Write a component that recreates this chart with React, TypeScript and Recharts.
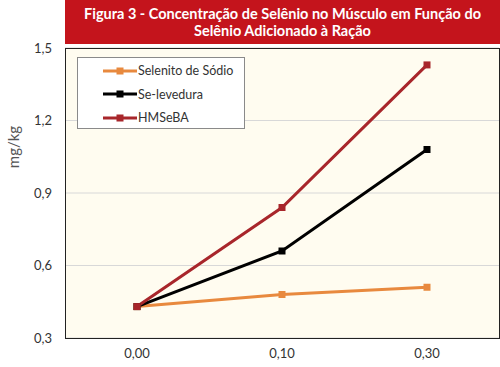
import React from 'react';
import { LineChart, Line, XAxis, YAxis, CartesianGrid, Legend } from 'recharts';

const categories = ['0,00', '0,10', '0,30'];
const selenitoValues = [0.43, 0.48, 0.51];
const leveduraValues = [0.43, 0.66, 1.08];
const hmsebaValues = [0.43, 0.84, 1.43];
const yTicks = [0.3, 0.6, 0.9, 1.2, 1.5];
const titleLines = ['Figura 3 - Concentração de Selênio no Músculo em Função do', 'Selênio Adicionado à Ração'];

const seriesDefs = [
  { key: 'selenito', name: 'Selenito de Sódio', color: '#E8893E' },
  { key: 'levedura', name: 'Se-levedura', color: '#000000' },
  { key: 'hmseba', name: 'HMSeBA', color: '#A8262B' },
];

const data = categories.map((c, i) => ({
  cat: c,
  selenito: selenitoValues[i],
  levedura: leveduraValues[i],
  hmseba: hmsebaValues[i],
}));

const FONT = 'Lato, "Open Sans", sans-serif';

const squareDot = (color: string) => (props: any) => {
  const { cx, cy, index } = props;
  if (cx == null || cy == null) return <g key={index} />;
  return <rect key={index} x={cx - 3.5} y={cy - 3.5} width={7} height={7} fill={color} />;
};

const LegendContent = () => (
  <div style={{ background: '#fff', border: '1px solid #8a8a8a', width: 168, height: 72, boxSizing: 'border-box', paddingTop: 1, fontFamily: FONT }}>
    {seriesDefs.map((s) => (
      <div key={s.key} style={{ display: 'flex', alignItems: 'center', height: 23.5 }}>
        <svg width={34} height={10} style={{ marginLeft: 25 }}>
          <line x1={0} y1={5} x2={34} y2={5} stroke={s.color} strokeWidth={3} />
          <rect x={13.5} y={1.5} width={7} height={7} fill={s.color} />
        </svg>
        <span style={{ fontSize: 12.5, color: '#333', marginLeft: 1 }}>{s.name}</span>
      </div>
    ))}
  </div>
);

export default function App() {
  return (
    <div style={{ position: 'absolute', left: 0, top: 0, width: 500, height: 367, background: '#fff' }}>
      <div style={{ position: 'absolute', left: 65, top: 0, width: 435, height: 44, background: '#C4141C', color: '#fff', fontFamily: FONT, fontWeight: 700, fontSize: 14.5, textAlign: 'center', lineHeight: '17px', paddingTop: 5, boxSizing: 'border-box' }}>
        <div>{titleLines[0]}</div>
        <div>{titleLines[1]}</div>
      </div>
      <LineChart width={500} height={367} data={data} margin={{ top: 48, right: 1, left: 0, bottom: 0 }} style={{ position: 'absolute', left: 0, top: 0 }}>
        <CartesianGrid vertical={false} stroke="#D8D8D8" fill="#FFFCF0" />
        <XAxis dataKey="cat" height={29} padding={{ left: 72, right: 72 }} tickLine={false} axisLine={false} tickSize={0} tickMargin={11} tick={{ fill: '#333', fontSize: 13, fontFamily: FONT }} />
        <YAxis
          domain={[0.3, 1.5]}
          ticks={yTicks}
          width={65}
          tickLine={false}
          axisLine={false}
          tickSize={0}
          tickMargin={13}
          tickFormatter={(v: number) => v.toFixed(1).replace('.', ',')}
          tick={{ fill: '#333', fontSize: 13, fontFamily: FONT }}
          label={{
            content: () => (
              <text x={19} y={147} transform="rotate(-90 19 147)" textAnchor="middle" fontSize={15} fill="#555" fontFamily={FONT}>mg/kg</text>
            ),
          }}
        />
        <Legend layout="vertical" align="center" verticalAlign="middle" content={<LegendContent />} wrapperStyle={{ position: 'absolute', left: 77, top: 57, width: 168, height: 72 }} />
        {seriesDefs.map((s) => (
          <Line
            key={s.key}
            type="linear"
            dataKey={s.key}
            name={s.name}
            stroke={s.color}
            strokeWidth={3}
            dot={squareDot(s.color)}
            activeDot={false}
            isAnimationActive={false}
          />
        ))}
      </LineChart>
      <div style={{ position: 'absolute', left: 64.5, top: 47.5, width: 435, height: 291, border: '1.5px solid #222', boxSizing: 'border-box', pointerEvents: 'none' }} />
    </div>
  );
}
